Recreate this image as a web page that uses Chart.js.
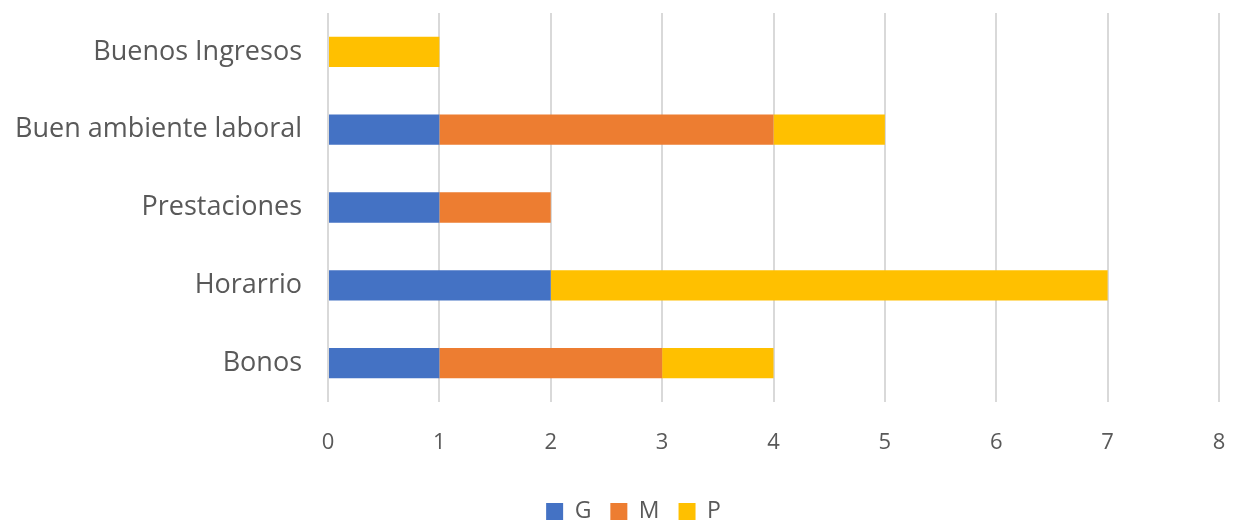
<!DOCTYPE html>
<html>
<head>
<meta charset="utf-8">
<script src="https://cdn.jsdelivr.net/npm/chart.js@4"></script>
<style>
  html, body { margin: 0; padding: 0; background: #fff; }
  #wrap { width: 1233px; height: 521px; }
</style>
</head>
<body>
<div id="wrap"><canvas id="chart"></canvas></div>
<script>
// datos
const categorias = ["Buenos Ingresos", "Buen ambiente laboral", "Prestaciones", "Horarrio", "Bonos"];
const valoresG = [0, 1, 1, 2, 1];
const valoresM = [0, 3, 1, 0, 2];
const valoresP = [1, 1, 0, 5, 1];
const ticksX = [0, 1, 2, 3, 4, 5, 6, 7, 8];

const fuente = "'Open Sans', 'Noto Sans', sans-serif";
const gris = "#595959";

// la leyenda del original está algo desplazada a la derecha
const moverLeyenda = {
  id: "moverLeyenda",
  afterLayout(chart) {
    if (chart.legend) {
      chart.legend.left += 24;
      chart.legend.right += 24;
    }
  },
};

const ctx = document.getElementById("chart").getContext("2d");
new Chart(ctx, {
  type: "bar",
  data: {
    labels: categorias,
    datasets: [
      { label: "G", data: valoresG, backgroundColor: "#4472C4" },
      { label: "M", data: valoresM, backgroundColor: "#ED7D31" },
      { label: "P", data: valoresP, backgroundColor: "#FFC000" },
    ],
  },
  options: {
    indexAxis: "y",
    responsive: true,
    maintainAspectRatio: false,
    animation: false,
    layout: { padding: { top: 13, right: 14, left: 0, bottom: -12 } },
    datasets: { bar: { categoryPercentage: 1, barPercentage: 0.39 } },
    scales: {
      x: {
        stacked: true,
        min: 0,
        max: 8,
        afterBuildTicks: (axis) => { axis.ticks = ticksX.map((v) => ({ value: v })); },
        grid: { color: "#d9d9d9", lineWidth: 2, drawTicks: false },
        border: { display: false },
        ticks: { color: gris, font: { family: fuente, size: 22 }, padding: 28 },
        afterFit: (axis) => {
          axis.height = 79;
          axis.paddingLeft = 0;
          axis.paddingRight = 0;
        },
      },
      y: {
        stacked: true,
        grid: { display: false, drawTicks: false },
        border: { display: false },
        ticks: { color: gris, font: { family: fuente, size: 27 }, padding: 26 },
        afterFit: (axis) => {
          axis.width = 328;
          axis.paddingTop = 0;
          axis.paddingBottom = 0;
        },
      },
    },
    plugins: {
      legend: {
        position: "bottom",
        labels: {
          color: gris,
          font: { family: fuente, size: 23 },
          boxWidth: 17,
          boxHeight: 17,
          padding: 19,
        },
      },
      tooltip: { enabled: false },
    },
  },
  plugins: [moverLeyenda],
});
</script>
</body>
</html>
